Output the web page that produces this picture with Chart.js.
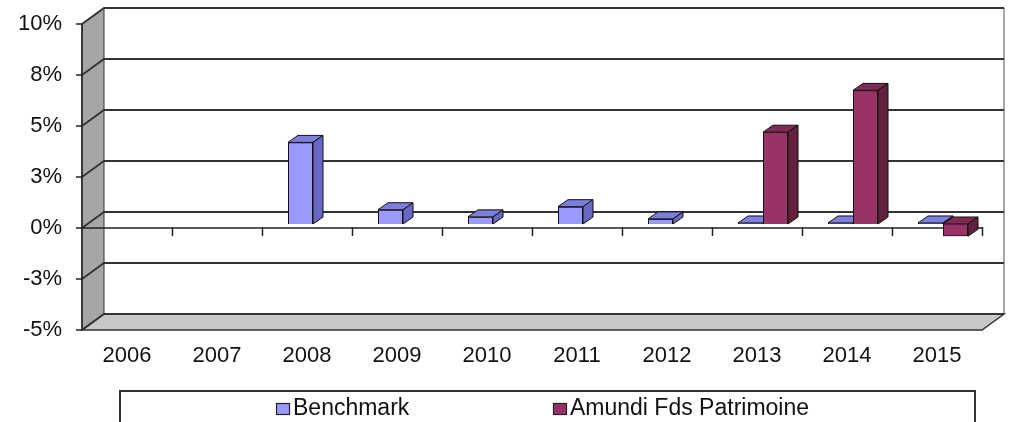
<!DOCTYPE html>
<html>
<head>
<meta charset="utf-8">
<title>Benchmark vs Amundi Fds Patrimoine</title>
<script src="https://cdn.jsdelivr.net/npm/chart.js@4.4.0/dist/chart.umd.min.js"></script>
<style>
    html, body { margin: 0; padding: 0; background: #fff; }
    #wrap { width: 1012px; height: 422px; position: relative; }
</style>
</head>
<body>
<div id="wrap"><canvas id="chart" width="1012" height="422"></canvas></div>
<script>
// Datos del grafico (valores en %)
var years = ['2006', '2007', '2008', '2009', '2010', '2011', '2012', '2013', '2014', '2015'];
var benchmark = [null, null, 4.0, 0.7, 0.35, 0.85, 0.25, 0.05, 0.05, 0.05];
var amundi = [null, null, null, null, null, null, null, 4.5, 6.55, -0.6];
var yTickValues = [-5, -2.5, 0, 2.5, 5, 7.5, 10];

// Colores de cada serie: frente, tapa, lateral
var benchColors = { front: '#9999FF', top: '#7E7EDD', side: '#6868C4' };
var amundiColors = { front: '#993366', top: '#7E2A55', side: '#63203F' };

// Profundidad 3D
var WALL_DX = 22, WALL_DY = -16;   // pared del fondo
var BAR_SX = 6, BAR_SY = -4;       // posicion de las barras dentro de la caja
var BAR_DX = 10, BAR_DY = -7;      // grosor de cada barra

var FONT = "'Liberation Sans', Arial, sans-serif";

function poly(ctx, pts, fill, stroke, lw) {
    ctx.beginPath();
    ctx.moveTo(pts[0][0], pts[0][1]);
    for (var i = 1; i < pts.length; i++) {
        ctx.lineTo(pts[i][0], pts[i][1]);
    }
    ctx.closePath();
    if (fill) {
        ctx.fillStyle = fill;
        ctx.fill();
    }
    if (stroke) {
        ctx.strokeStyle = stroke;
        ctx.lineWidth = lw || 1;
        ctx.stroke();
    }
}

// Excel redondea -2.5 a -3
function excelRound(v) {
    return (v < 0 ? -1 : 1) * Math.round(Math.abs(v));
}

var box3d = {
    id: 'box3d',
    beforeDatasetsDraw: function(chart) {
        var ctx = chart.ctx;
        var a = chart.chartArea;
        var y = chart.scales.y;

        ctx.save();
        // pared del fondo
        ctx.fillStyle = '#fff';
        ctx.fillRect(a.left + WALL_DX, a.top + WALL_DY, a.right - a.left, a.bottom - a.top);
        ctx.strokeStyle = '#A8A8A8';
        ctx.lineWidth = 2;
        ctx.beginPath();
        ctx.moveTo(a.right + WALL_DX, a.top + WALL_DY);
        ctx.lineTo(a.right + WALL_DX, a.bottom + WALL_DY);
        ctx.stroke();

        // pared izquierda
        poly(ctx, [[a.left, a.top], [a.left + WALL_DX, a.top + WALL_DY],
                   [a.left + WALL_DX, a.bottom + WALL_DY], [a.left, a.bottom]], '#A6A6A6', '#333', 1);
        // suelo
        poly(ctx, [[a.left, a.bottom], [a.left + WALL_DX, a.bottom + WALL_DY],
                   [a.right + WALL_DX, a.bottom + WALL_DY], [a.right, a.bottom]], '#C8C8C8', '#333', 1.5);

        // lineas de division
        ctx.strokeStyle = '#333';
        ctx.lineWidth = 1.8;
        y.ticks.forEach(function(t) {
            var py = y.getPixelForValue(t.value);
            ctx.beginPath();
            ctx.moveTo(a.left, py);
            ctx.lineTo(a.left + WALL_DX, py + WALL_DY);
            ctx.lineTo(a.right + WALL_DX, py + WALL_DY);
            ctx.stroke();
        });

        // eje vertical delantero con marcas
        ctx.strokeStyle = '#222';
        ctx.lineWidth = 1.5;
        ctx.beginPath();
        ctx.moveTo(a.left, a.top);
        ctx.lineTo(a.left, a.bottom);
        y.ticks.forEach(function(t) {
            var py = y.getPixelForValue(t.value);
            ctx.moveTo(a.left - 6, py);
            ctx.lineTo(a.left, py);
        });
        ctx.stroke();

        // linea del cero con marcas de categoria
        var y0 = y.getPixelForValue(0);
        ctx.beginPath();
        ctx.moveTo(a.left, y0);
        ctx.lineTo(a.right, y0);
        var step = (a.right - a.left) / years.length;
        for (var k = 1; k <= years.length; k++) {
            var px = Math.round(a.left + k * step) + 0.5;
            ctx.moveTo(px, y0 - 1);
            ctx.lineTo(px, y0 + 8);
        }
        ctx.stroke();
        ctx.restore();

        // desplazar las barras hacia dentro de la caja
        ctx.save();
        ctx.translate(BAR_SX, BAR_SY);
    },
    afterDatasetsDraw: function(chart) {
        var ctx = chart.ctx;
        var sets = chart.data.datasets;
        var palettes = [benchColors, amundiColors];

        // redibujar en orden (izquierda a derecha) con tapa y lateral
        for (var i = 0; i < years.length; i++) {
            for (var d = 0; d < sets.length; d++) {
                var v = sets[d].data[i];
                if (v === null || v === undefined) {
                    continue;
                }
                var el = chart.getDatasetMeta(d).data[i];
                var p = el.getProps(['x', 'y', 'base', 'width'], true);
                var l = p.x - p.width / 2;
                var r = p.x + p.width / 2;
                var t = Math.min(p.y, p.base);
                var b = Math.max(p.y, p.base);
                var c = palettes[d];

                el.draw(ctx);
                // tapa
                poly(ctx, [[l, t], [l + BAR_DX, t + BAR_DY], [r + BAR_DX, t + BAR_DY], [r, t]], c.top, '#111', 1);
                // lateral
                poly(ctx, [[r, t], [r + BAR_DX, t + BAR_DY], [r + BAR_DX, b + BAR_DY], [r, b]], c.side, '#111', 1);
            }
        }
        ctx.restore();
    },
    afterDraw: function(chart) {
        var ctx = chart.ctx;
        var sets = chart.data.datasets;

        // caja de la leyenda
        ctx.save();
        ctx.strokeStyle = '#333';
        ctx.lineWidth = 2;
        ctx.strokeRect(120, 391, 855, 60);

        ctx.font = '23px ' + FONT;
        ctx.textBaseline = 'alphabetic';
        var starts = [276, 553];
        sets.forEach(function(s, idx) {
            var lx = starts[idx];
            ctx.fillStyle = s.backgroundColor;
            ctx.fillRect(lx, 403, 13, 11);
            ctx.strokeStyle = '#222';
            ctx.lineWidth = 1.2;
            ctx.strokeRect(lx + 0.5, 403.5, 13, 11);
            ctx.fillStyle = '#111';
            ctx.fillText(s.label, lx + 17, 415);
        });
        ctx.restore();
    }
};

var ctx = document.getElementById('chart').getContext('2d');
Chart.defaults.font.family = FONT;
Chart.defaults.font.size = 22;
Chart.defaults.color = '#111';

new Chart(ctx, {
    type: 'bar',
    data: {
        labels: years,
        datasets: [{
            label: 'Benchmark',
            data: benchmark,
            backgroundColor: benchColors.front,
            borderColor: '#111',
            borderWidth: 1,
            categoryPercentage: 0.556,
            barPercentage: 1
        }, {
            label: 'Amundi Fds Patrimoine',
            data: amundi,
            backgroundColor: amundiColors.front,
            borderColor: '#111',
            borderWidth: 1,
            categoryPercentage: 0.556,
            barPercentage: 1
        }]
    },
    options: {
        responsive: false,
        animation: false,
        layout: {
            padding: { top: 24, right: 30, left: 0, bottom: 0 }
        },
        plugins: {
            legend: { display: false },
            tooltip: { enabled: false }
        },
        scales: {
            x: {
                grid: { display: false, drawTicks: false },
                border: { display: false },
                ticks: { padding: 13, maxRotation: 0, autoSkip: false },
                afterFit: function(scale) {
                    scale.height = 92;
                    scale.paddingLeft = 0;
                    scale.paddingRight = 0;
                }
            },
            y: {
                min: -5,
                max: 10,
                grid: { display: false, drawTicks: false },
                border: { display: false },
                afterBuildTicks: function(scale) {
                    scale.ticks = yTickValues.map(function(v) { return { value: v }; });
                },
                ticks: {
                    padding: 20,
                    callback: function(value) {
                        return excelRound(value) + '%';
                    }
                },
                afterFit: function(scale) {
                    scale.width = 82;
                    scale.paddingTop = 0;
                    scale.paddingBottom = 0;
                }
            }
        }
    },
    plugins: [box3d]
});
</script>
</body>
</html>
